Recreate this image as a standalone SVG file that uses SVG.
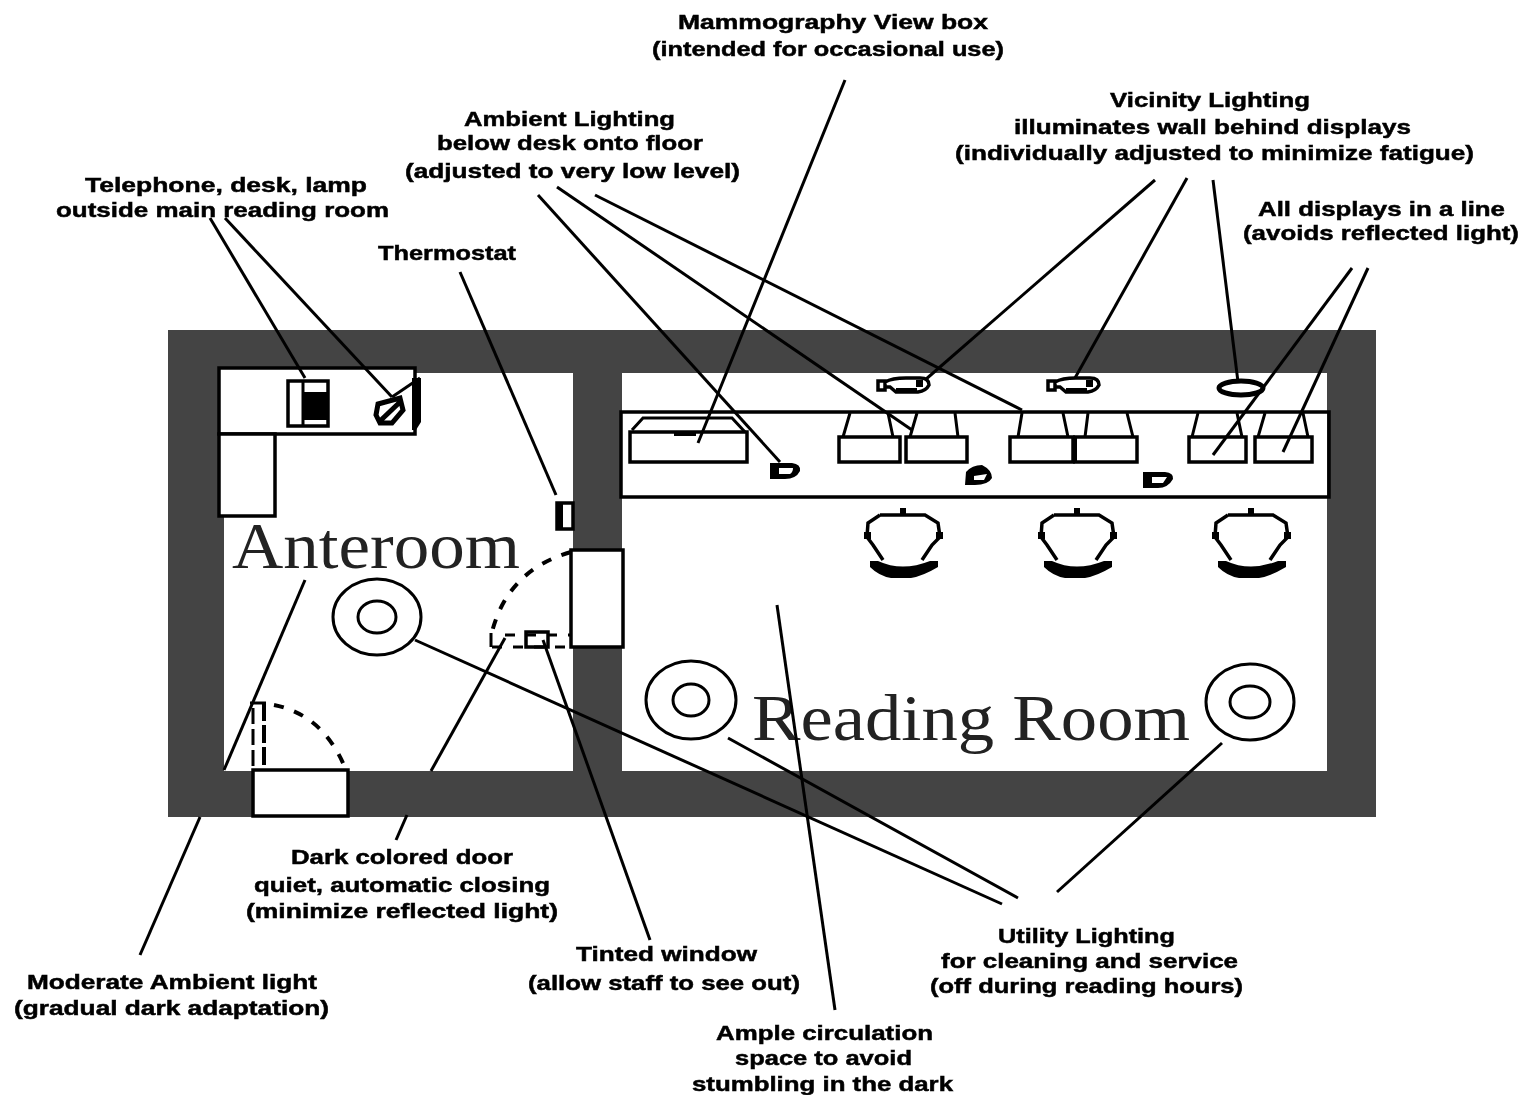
<svg xmlns="http://www.w3.org/2000/svg" xmlns:xlink="http://www.w3.org/1999/xlink" width="1524" height="1095" viewBox="0 0 1524 1095">
<style>
.l{font:bold 21px "Liberation Sans",Arial,sans-serif;fill:#000;stroke:#000;stroke-width:.5;filter:url(#soft)}
.r{font:65px "Liberation Serif","Times New Roman",serif;fill:#222;filter:url(#soft)}
.s{fill:none;stroke:#000;stroke-width:3}
.w{fill:#fff;stroke:#000;stroke-width:3.5}
.t{fill:none;stroke:#000;stroke-width:7}
.d{fill:none;stroke:#000;stroke-width:3;stroke-dasharray:10 11}
.c line{stroke:#000;stroke-width:3}
</style>
<defs>
<filter id="soft" x="-5%" y="-20%" width="110%" height="140%"><feGaussianBlur stdDeviation="0.7"/></filter>
<g id="chair">
<path class="s" style="stroke-width:3.5" d="M-23,3H22L35,11L37,25L29,33L19,48M-23,3L-35,11L-36,25L-30,33L-20,48"/>
<path d="M-3,-4h6v7h-6zM-39,20h7v7h-7zM33,20h7v7h-7z"/>
<path d="M-33,49H-25Q-1,60 27,49H35V55Q20,64 8,66H-12Q-24,64 -33,55Z"/>
</g>
<g id="walllight">
<path class="s" style="stroke-width:3.5" d="M-26,-4H-19V5H-26ZM-19,-3Q-12,-7 2,-7H16Q25,-7 25,0Q22,6 14,7H-8L-14,2H-19"/>
<path d="M-8,3H13V8H-8zM12,-5h7v7h-7z"/>
</g>
</defs>
<rect width="1524" height="1095" fill="#fff"/>
<g id="walls">
<path fill="#444" fill-rule="evenodd" d="M168,330H1376V817H168ZM224,373V771H573V373ZM622,373V771H1327V373Z"/>
</g>
<g id="anteroom-label"><text class="r" x="232" y="568" textLength="288" lengthAdjust="spacingAndGlyphs">Anteroom</text></g>
<g id="reading-room-label"><text class="r" x="752" y="740" textLength="438" lengthAdjust="spacingAndGlyphs">Reading Room</text></g>
<g id="desk">
<rect class="w" x="219" y="368" width="196" height="66"/>
<rect class="w" x="219" y="434" width="56" height="82"/>
</g>
<g id="telephone">
<rect class="w" x="288" y="381" width="40" height="45"/>
<rect x="303" y="392" width="25" height="28"/>
<path class="s" d="M303,381V426"/>
</g>
<g id="lamp">
<path d="M412,378h9v44l-5,8h-4z"/>
<path class="s" style="stroke-width:5" d="M378,404L400,398L403,410L392,423H380L376,415ZM380,421L400,402"/>
</g>
<g id="thermostat">
<rect class="w" x="557" y="503" width="16" height="26"/>
<rect x="556" y="503" width="7" height="26"/>
</g>
<g id="door-anteroom">
<rect class="w" x="571" y="550" width="52" height="97"/>
<path class="d" style="stroke-width:4" d="M571,552Q508,570 492,632"/>
</g>
<g id="tinted-window">
<rect class="w" x="526" y="632" width="22" height="15"/>
<path class="d" d="M505,635H570M492,647H570"/>
<path class="s" d="M491,633V647"/>
</g>
<g id="door-entry">
<rect class="w" x="253" y="770" width="95" height="46"/>
<path class="s" style="stroke-dasharray:16 5" d="M253,708V770"/>
<path class="s" style="stroke-width:4;stroke-dasharray:18 4" d="M264,703V770"/>
<path class="s" d="M250,703H266"/>
<path class="d" style="stroke-width:4" d="M274,705Q324,715 346,770"/>
</g>
<g id="console">
<rect x="621" y="412" width="708" height="85" fill="none" stroke="#000" stroke-width="3.5"/>
</g>
<g id="viewbox">
<rect class="w" x="630" y="432" width="117" height="30"/>
<path class="s" d="M632,430L643,418H732L745,432"/>
<path d="M674,431h22v5h-22z"/>
</g>
<g id="display-1"><rect class="w" x="839" y="437" width="61" height="25"/><path class="s" d="M850,413L843,437M888,413L893,437"/></g>
<g id="display-2"><rect class="w" x="906" y="437" width="61" height="25"/><path class="s" d="M917,413L910,437M955,413L958,437"/></g>
<g id="display-3"><rect class="w" x="1010" y="437" width="63" height="25"/><path class="s" d="M1022,413L1018,437M1063,413L1068,437"/></g>
<g id="display-4"><rect class="w" x="1075" y="437" width="62" height="25"/><path class="s" d="M1088,413L1085,437M1127,413L1133,437"/><path d="M1072,437h5v25h-5z"/></g>
<g id="display-5"><rect class="w" x="1189" y="437" width="57" height="25"/><path class="s" d="M1198,413L1192,437M1237,413L1242,437"/></g>
<g id="display-6"><rect class="w" x="1255" y="437" width="57" height="25"/><path class="s" d="M1265,413L1258,437M1303,413L1308,437"/></g>
<g id="floor-lamps">
<path fill-rule="evenodd" d="M770,463H792Q801,464 800,471Q796,479 785,479H770ZM779,468V474H790Q793,472 793,468Z"/>
<path fill-rule="evenodd" d="M966,472Q972,465 982,465Q992,470 992,478Q988,485 975,485H965ZM974,476V480H984L987,474Z"/>
<path fill-rule="evenodd" d="M1143,472H1165Q1174,473 1173,479Q1168,488 1158,488H1143ZM1152,477V483H1163L1167,477Z"/>
</g>
<g id="wall-lights">
<use xlink:href="#walllight" href="#walllight" x="904" y="385"/>
<use xlink:href="#walllight" href="#walllight" x="1074" y="385"/>
<ellipse cx="1241" cy="388" rx="22" ry="7" fill="none" stroke="#000" stroke-width="5"/>
</g>
<g id="chairs">
<use xlink:href="#chair" href="#chair" x="903" y="512"/>
<use xlink:href="#chair" href="#chair" x="1077" y="512"/>
<use xlink:href="#chair" href="#chair" x="1251" y="512"/>
</g>
<g id="utility-light-1"><ellipse class="s" cx="377" cy="617" rx="44" ry="38"/><ellipse class="s" cx="377" cy="617" rx="19" ry="16"/></g>
<g id="utility-light-2"><ellipse class="s" cx="691" cy="700" rx="45" ry="39"/><ellipse class="s" cx="691" cy="700" rx="18" ry="16"/></g>
<g id="utility-light-3"><ellipse class="s" cx="1250" cy="702" rx="44" ry="38"/><ellipse class="s" cx="1250" cy="702" rx="20" ry="16"/></g>
<g id="connectors" class="c">
<line x1="845" y1="80" x2="698" y2="443"/>
<line x1="538" y1="195" x2="780" y2="462"/>
<line x1="557" y1="187" x2="912" y2="430"/>
<line x1="595" y1="195" x2="1022" y2="410"/>
<line x1="1155" y1="180" x2="925" y2="380"/>
<line x1="1187" y1="178" x2="1075" y2="378"/>
<line x1="1213" y1="180" x2="1238" y2="382"/>
<line x1="1352" y1="268" x2="1213" y2="455"/>
<line x1="1368" y1="268" x2="1283" y2="452"/>
<line x1="210" y1="218" x2="305" y2="378"/>
<line x1="225" y1="218" x2="392" y2="397"/>
<line x1="392" y1="397" x2="420" y2="378"/>
<line x1="460" y1="272" x2="556" y2="495"/>
<line x1="305" y1="580" x2="224" y2="770"/>
<line x1="200" y1="817" x2="140" y2="955"/>
<line x1="505" y1="638" x2="431" y2="771"/>
<line x1="407" y1="815" x2="396" y2="840"/>
<line x1="543" y1="640" x2="650" y2="940"/>
<line x1="415" y1="640" x2="1002" y2="904"/>
<line x1="728" y1="738" x2="1018" y2="898"/>
<line x1="1057" y1="892" x2="1222" y2="743"/>
<line x1="777" y1="605" x2="835" y2="1010"/>
</g>
<g id="label-mammography"><text class="l" x="678" y="29" textLength="310" lengthAdjust="spacingAndGlyphs">Mammography View box</text><text class="l" x="652" y="56" textLength="352" lengthAdjust="spacingAndGlyphs">(intended for occasional use)</text></g>
<g id="label-ambient"><text class="l" x="464" y="126" textLength="211" lengthAdjust="spacingAndGlyphs">Ambient Lighting</text><text class="l" x="437" y="150" textLength="266" lengthAdjust="spacingAndGlyphs">below desk onto floor</text><text class="l" x="405" y="178" textLength="335" lengthAdjust="spacingAndGlyphs">(adjusted to very low level)</text></g>
<g id="label-vicinity"><text class="l" x="1110" y="107" textLength="200" lengthAdjust="spacingAndGlyphs">Vicinity Lighting</text><text class="l" x="1014" y="134" textLength="397" lengthAdjust="spacingAndGlyphs">illuminates wall behind displays</text><text class="l" x="955" y="160" textLength="519" lengthAdjust="spacingAndGlyphs">(individually adjusted to minimize fatigue)</text></g>
<g id="label-telephone"><text class="l" x="85" y="192" textLength="282" lengthAdjust="spacingAndGlyphs">Telephone, desk, lamp</text><text class="l" x="56" y="217" textLength="333" lengthAdjust="spacingAndGlyphs">outside main reading room</text></g>
<g id="label-thermostat"><text class="l" x="378" y="260" textLength="138" lengthAdjust="spacingAndGlyphs">Thermostat</text></g>
<g id="label-displays"><text class="l" x="1258" y="216" textLength="247" lengthAdjust="spacingAndGlyphs">All displays in a line</text><text class="l" x="1243" y="240" textLength="276" lengthAdjust="spacingAndGlyphs">(avoids reflected light)</text></g>
<g id="label-door"><text class="l" x="291" y="864" textLength="222" lengthAdjust="spacingAndGlyphs">Dark colored door</text><text class="l" x="254" y="892" textLength="296" lengthAdjust="spacingAndGlyphs">quiet, automatic closing</text><text class="l" x="246" y="918" textLength="312" lengthAdjust="spacingAndGlyphs">(minimize reflected light)</text></g>
<g id="label-window"><text class="l" x="576" y="961" textLength="181" lengthAdjust="spacingAndGlyphs">Tinted window</text><text class="l" x="528" y="990" textLength="272" lengthAdjust="spacingAndGlyphs">(allow staff to see out)</text></g>
<g id="label-moderate"><text class="l" x="27" y="989" textLength="290" lengthAdjust="spacingAndGlyphs">Moderate Ambient light</text><text class="l" x="14" y="1015" textLength="315" lengthAdjust="spacingAndGlyphs">(gradual dark adaptation)</text></g>
<g id="label-utility"><text class="l" x="998" y="943" textLength="177" lengthAdjust="spacingAndGlyphs">Utility Lighting</text><text class="l" x="941" y="968" textLength="297" lengthAdjust="spacingAndGlyphs">for cleaning and service</text><text class="l" x="930" y="993" textLength="313" lengthAdjust="spacingAndGlyphs">(off during reading hours)</text></g>
<g id="label-circulation"><text class="l" x="716" y="1040" textLength="217" lengthAdjust="spacingAndGlyphs">Ample circulation</text><text class="l" x="735" y="1065" textLength="177" lengthAdjust="spacingAndGlyphs">space to avoid</text><text class="l" x="692" y="1091" textLength="261" lengthAdjust="spacingAndGlyphs">stumbling in the dark</text></g>
</svg>
